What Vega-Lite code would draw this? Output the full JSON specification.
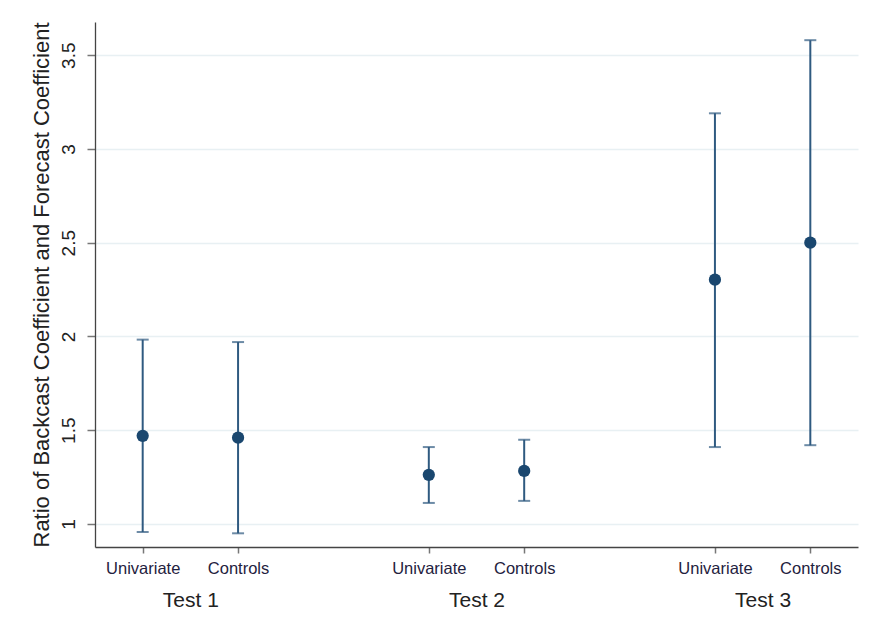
{
  "$schema": "https://vega.github.io/schema/vega-lite/v6.json",
  "autosize": "none",
  "width": 763,
  "height": 525,
  "padding": {"left": 95, "top": 22, "right": 12, "bottom": 90},
  "background": "white",
  "data": {
    "values": [
      {"pos": 1, "spec": "Univariate", "test": "Test 1", "est": 1.47, "lo": 0.957, "hi": 1.983},
      {"pos": 2, "spec": "Controls", "test": "Test 1", "est": 1.46, "lo": 0.95, "hi": 1.97},
      {"pos": 4, "spec": "Univariate", "test": "Test 2", "est": 1.262, "lo": 1.112, "hi": 1.41},
      {"pos": 5, "spec": "Controls", "test": "Test 2", "est": 1.283, "lo": 1.123, "hi": 1.449},
      {"pos": 7, "spec": "Univariate", "test": "Test 3", "est": 2.303, "lo": 1.41, "hi": 3.19},
      {"pos": 8, "spec": "Controls", "test": "Test 3", "est": 2.5, "lo": 1.42, "hi": 3.58}
    ]
  },
  "resolve": {"axis": {"x": "independent"}},
  "layer": [
    {
      "mark": {"type": "rule", "color": "#2f5a80", "strokeWidth": 2},
      "encoding": {
        "x": {
          "field": "pos", "type": "quantitative",
          "scale": {"domain": [0.5, 8.5], "nice": false, "zero": false},
          "axis": {
            "orient": "bottom", "title": null, "grid": false,
            "values": [1, 2, 4, 5, 7, 8],
            "labelExpr": "datum.value % 3 == 1 ? 'Univariate' : 'Controls'",
            "labelFontSize": 16.5, "labelColor": "#1f2240", "labelPadding": 7,
            "tickSize": 6, "tickColor": "#777777", "tickWidth": 1.5,
            "domainColor": "#444444", "domainWidth": 1.3
          }
        },
        "y": {
          "field": "lo", "type": "quantitative",
          "scale": {"domain": [0.877, 3.677], "nice": false, "zero": false},
          "axis": {
            "title": "Ratio of Backcast Coefficient and Forecast Coefficient",
            "titleFontSize": 22, "titleFontWeight": "normal", "titleColor": "#222222",
            "titlePadding": 6,
            "values": [1, 1.5, 2, 2.5, 3, 3.5],
            "format": "~g",
            "labelAngle": 270, "labelAlign": "center", "labelBaseline": "bottom",
            "labelFontSize": 19, "labelColor": "#222222", "labelPadding": 9,
            "tickSize": 8, "tickColor": "#777777", "tickWidth": 1.5,
            "domainColor": "#444444", "domainWidth": 1.3,
            "grid": true, "gridColor": "#e8f0f3", "gridWidth": 1.5
          }
        },
        "y2": {"field": "hi"}
      }
    },
    {
      "mark": {"type": "tick", "orient": "horizontal", "color": "#2f5a80", "size": 12, "thickness": 2},
      "encoding": {
        "x": {"field": "pos", "type": "quantitative", "axis": null},
        "y": {"field": "lo", "type": "quantitative"}
      }
    },
    {
      "mark": {"type": "tick", "orient": "horizontal", "color": "#2f5a80", "size": 12, "thickness": 2},
      "encoding": {
        "x": {"field": "pos", "type": "quantitative", "axis": null},
        "y": {"field": "hi", "type": "quantitative"}
      }
    },
    {
      "mark": {"type": "point", "filled": true, "shape": "circle", "size": 150, "color": "#1a476f", "opacity": 1},
      "encoding": {
        "x": {
          "field": "pos", "type": "quantitative",
          "axis": {
            "orient": "bottom", "title": null, "grid": false,
            "values": [1.5, 4.5, 7.5],
            "labelExpr": "'Test ' + ((datum.value + 1.5) / 3)",
            "labelFontSize": 21, "labelColor": "#222222", "labelPadding": 42,
            "domain": false, "ticks": false
          }
        },
        "y": {"field": "est", "type": "quantitative"},
        "tooltip": [
          {"field": "test"}, {"field": "spec"},
          {"field": "est", "type": "quantitative"}
        ]
      }
    }
  ],
  "config": {
    "view": {"stroke": null},
    "font": "Liberation Sans"
  }
}
